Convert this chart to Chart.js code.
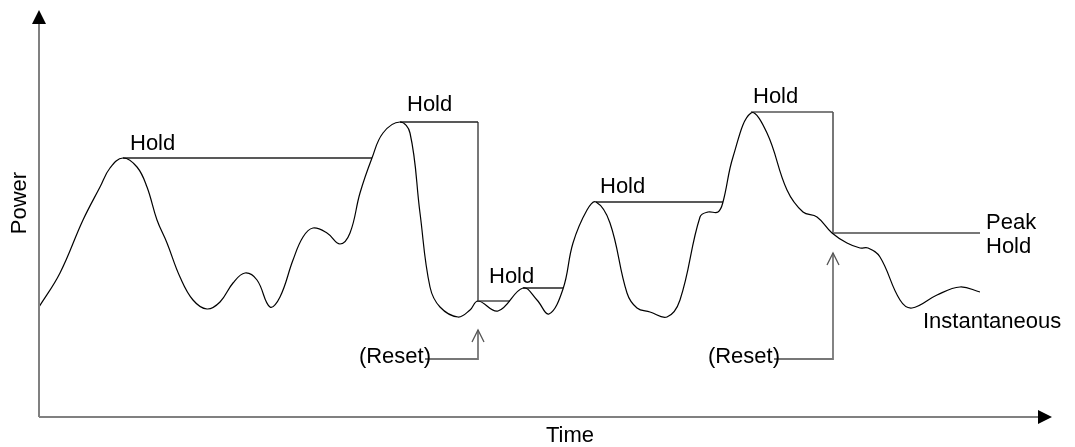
<!DOCTYPE html>
<html>
<head>
<meta charset="utf-8">
<script src="https://cdn.jsdelivr.net/npm/chart.js@4/dist/chart.umd.min.js"></script>
<style>
  html, body { margin: 0; padding: 0; background: #fff; }
  #grafica { display: block; }
</style>
</head>
<body>
<canvas id="grafica" width="1075" height="447"></canvas>
<script>
// tiempo (x) y potencia (y), origen en la esquina de los ejes
var tiempo = [0, 21, 44, 61, 71, 84, 98, 108, 118, 128, 141, 154, 168, 181, 194, 206, 218, 231, 241, 254,
    264, 274, 288, 301, 311, 321, 333, 344, 361, 371, 381, 391, 401, 419, 431, 439, 459, 484, 498, 510,
    524, 534, 548, 557, 571, 588, 598, 611, 628, 641, 661, 669, 679, 684, 694, 712, 728, 748, 764, 778,
    793, 808, 821, 829, 841, 861, 873, 898, 921, 941];
var potencia = [110, 144, 197, 230, 249, 259, 250, 230, 197, 174, 140, 117, 108, 115, 134, 144, 137, 110, 120, 157,
    180, 189, 184, 173, 184, 224, 259, 284, 295, 284, 204, 130, 110, 100, 107, 116, 106, 129, 117, 103,
    128, 174, 207, 215, 194, 124, 109, 105, 100, 117, 200, 205, 205, 215, 260, 304, 284, 227, 205, 200,
    184, 174, 169, 169, 160, 117, 109, 122, 130, 125];

// tramos de retencion del pico
var holdA = [[84, 259], [333, 259]];
var holdB = [[361, 295], [439, 295]];
var holdBv = [[439, 295], [439, 116], [471, 116]];
var holdC = [[484, 129], [524, 129]];
var holdD = [[557, 215], [684, 215]];
var holdE = [[712, 305], [794, 305]];
var holdEv = [[794, 305], [794, 184], [941, 184]];

// flechas de reset
var reset1 = [[386, 58], [439, 58], [439, 87]];
var reset2 = [[735, 58], [794, 58], [794, 164]];

var etiquetas = [
    { texto: 'Hold', t: 91, p: 273, align: 'left' },
    { texto: 'Hold', t: 368, p: 312, align: 'left' },
    { texto: 'Hold', t: 450, p: 140, align: 'left' },
    { texto: 'Hold', t: 561, p: 230, align: 'left' },
    { texto: 'Hold', t: 714, p: 320, align: 'left' },
    { texto: 'Peak', t: 947, p: 194, align: 'left' },
    { texto: 'Hold', t: 947, p: 170, align: 'left' },
    { texto: 'Instantaneous', t: 884, p: 95, align: 'left' },
    { texto: '(Reset)', t: 392, p: 60, align: 'right' },
    { texto: '(Reset)', t: 741, p: 60, align: 'right' }
];

var fuente = '22px "Liberation Sans", Arial, sans-serif';

function puntos(lista) {
    return lista.map(function (par) { return { x: par[0], y: par[1] }; });
}

function tramo(lista, color, ancho) {
    return {
        data: puntos(lista),
        borderColor: color,
        borderWidth: ancho,
        tension: 0,
        pointRadius: 0,
        fill: false
    };
}

var instantanea = tiempo.map(function (t, i) { return { x: t, y: potencia[i] }; });

var datasets = [
    {
        data: instantanea,
        borderColor: '#000',
        borderWidth: 1.2,
        tension: 0.4,
        pointRadius: 0,
        fill: false
    },
    tramo(holdA, '#222', 1.3),
    tramo(holdB, '#222', 1.3),
    tramo(holdBv, '#777', 2),
    tramo(holdC, '#222', 1.3),
    tramo(holdD, '#222', 1.3),
    tramo(holdE, '#555', 1.6),
    tramo(holdEv, '#777', 2),
    tramo(reset1, '#777', 1.8),
    tramo(reset2, '#777', 1.8)
];

function flechaAbierta(ctx, x, y) {
    ctx.beginPath();
    ctx.moveTo(x - 6, y + 12);
    ctx.lineTo(x, y);
    ctx.lineTo(x + 6, y + 12);
    ctx.stroke();
}

var dibujoExtra = {
    id: 'dibujoExtra',
    afterDatasetsDraw: function (chart) {
        var ctx = chart.ctx;
        var area = chart.chartArea;
        var sx = chart.scales.x;
        var sy = chart.scales.y;
        var x0 = sx.getPixelForValue(0);
        var y0 = sy.getPixelForValue(0);

        ctx.save();
        // ejes
        ctx.strokeStyle = '#808080';
        ctx.lineWidth = 2;
        ctx.beginPath();
        ctx.moveTo(x0, y0);
        ctx.lineTo(x0, area.top + 12);
        ctx.moveTo(x0, y0);
        ctx.lineTo(area.right - 12, y0);
        ctx.stroke();

        ctx.fillStyle = '#000';
        ctx.beginPath();
        ctx.moveTo(x0, area.top);
        ctx.lineTo(x0 - 7, area.top + 14);
        ctx.lineTo(x0 + 7, area.top + 14);
        ctx.closePath();
        ctx.fill();
        ctx.beginPath();
        ctx.moveTo(area.right, y0);
        ctx.lineTo(area.right - 14, y0 - 7);
        ctx.lineTo(area.right - 14, y0 + 7);
        ctx.closePath();
        ctx.fill();

        // puntas de las flechas de reset
        ctx.strokeStyle = '#555';
        ctx.lineWidth = 1.3;
        flechaAbierta(ctx, sx.getPixelForValue(reset1[2][0]), sy.getPixelForValue(reset1[2][1]));
        flechaAbierta(ctx, sx.getPixelForValue(reset2[2][0]), sy.getPixelForValue(reset2[2][1]));

        // textos
        ctx.font = fuente;
        ctx.fillStyle = '#000';
        ctx.textBaseline = 'middle';
        etiquetas.forEach(function (e) {
            ctx.textAlign = e.align;
            ctx.fillText(e.texto, sx.getPixelForValue(e.t), sy.getPixelForValue(e.p));
        });

        ctx.textAlign = 'center';
        ctx.fillText('Time', 570, y0 + 19);
        ctx.translate(x0 - 19, 203);
        ctx.rotate(-Math.PI / 2);
        ctx.fillText('Power', 0, 0);
        ctx.restore();
    }
};

var ctx = document.getElementById('grafica').getContext('2d');
var grafica = new Chart(ctx, {
    type: 'line',
    data: { datasets: datasets },
    options: {
        responsive: false,
        animation: false,
        devicePixelRatio: 1,
        layout: { padding: { left: 39, right: 23, top: 10, bottom: 30 } },
        plugins: { legend: { display: false }, tooltip: { enabled: false } },
        scales: {
            x: { type: 'linear', min: 0, max: 1013, display: false },
            y: { type: 'linear', min: 0, max: 407, display: false }
        }
    },
    plugins: [dibujoExtra]
});
</script>
</body>
</html>
